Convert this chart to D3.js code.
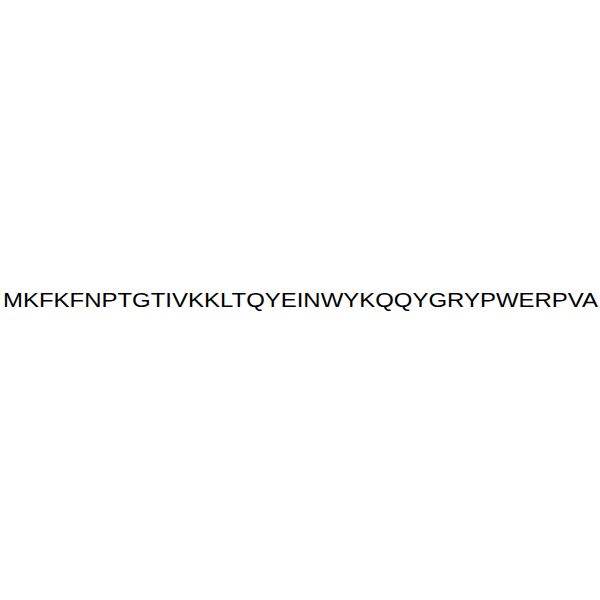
<!DOCTYPE html>
<html><head><meta charset="utf-8">
<script src="https://cdn.jsdelivr.net/npm/d3@7"></script>
<style>html,body{margin:0;padding:0;background:#fff;}</style>
</head><body>
<script>
const sequenceLabels = ["MKFKFNPTGTIVKKLTQYEINWYKQQYGRYPWERPVA"];

const W = 600, H = 600;
const svg = d3.select("body").append("svg").attr("width", W).attr("height", H);
svg.append("rect").attr("width", W).attr("height", H).attr("fill", "#fff");

const y = d3.scaleBand().domain(sequenceLabels).range([0, H]);

svg.selectAll("text.seq").data(sequenceLabels).join("text")
  .attr("class", "seq")
  .attr("x", 300.5)
  .attr("y", d => y(d) + y.bandwidth() / 2 + 7)
  .attr("text-anchor", "middle")
  .attr("font-family", "'Liberation Sans', Arial, sans-serif")
  .attr("font-size", 19.6)
  .attr("textLength", 595)
  .attr("lengthAdjust", "spacingAndGlyphs")
  .attr("fill", "#000")
  .text(d => d);
</script>
</body></html>
